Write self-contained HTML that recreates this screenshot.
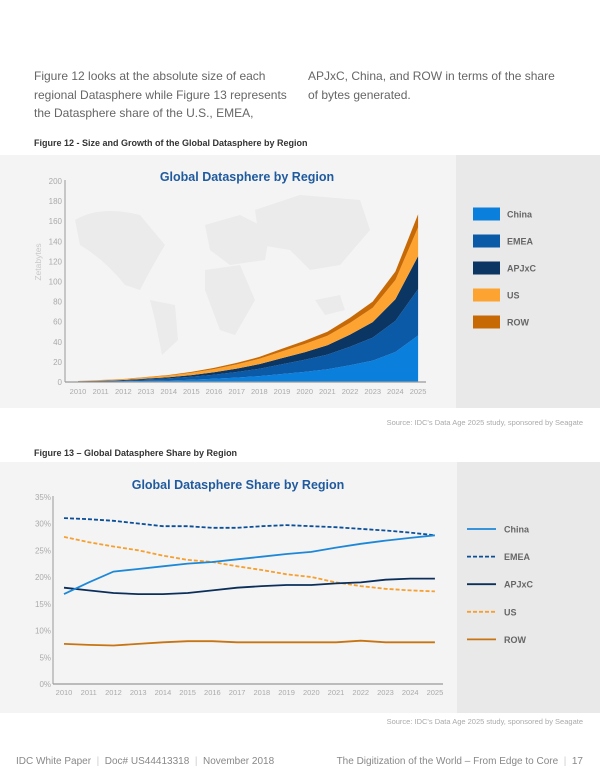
<!DOCTYPE html>
<html><head><meta charset="utf-8"><style>
body{margin:0;width:600px;height:776px;background:#fff;font-family:"Liberation Sans",sans-serif;position:relative;overflow:hidden}
.t{position:absolute;white-space:nowrap}
</style></head><body>
<div class="t" style="left:34px;top:67px;font-size:12px;color:#666;line-height:18.5px">Figure 12 looks at the absolute size of each<br>regional Datasphere while Figure 13 represents<br>the Datasphere share of the U.S., EMEA,</div>
<div class="t" style="left:308px;top:67px;font-size:12px;color:#666;line-height:18.5px">APJxC, China, and ROW in terms of the share<br>of bytes generated.</div>
<div class="t" style="left:34px;top:138px;font-size:9px;font-weight:bold;color:#333">Figure 12 - Size and Growth of the Global Datasphere by Region</div>
<div class="t" style="left:34px;top:448px;font-size:9px;font-weight:bold;color:#333">Figure 13 – Global Datasphere Share by Region</div>
<div class="t" style="right:17px;top:418px;font-size:7.5px;color:#aaa">Source: IDC's Data Age 2025 study, sponsored by Seagate</div>
<div class="t" style="right:17px;top:717px;font-size:7.5px;color:#aaa">Source: IDC's Data Age 2025 study, sponsored by Seagate</div>
<div class="t" style="left:16px;top:756px;font-size:10px;color:#888">IDC White Paper <span style="color:#ccc">&nbsp;|&nbsp;</span> Doc# US44413318 <span style="color:#ccc">&nbsp;|&nbsp;</span> November 2018</div>
<div class="t" style="right:17px;top:756px;font-size:10px;color:#888">The Digitization of the World – From Edge to Core <span style="color:#ccc">&nbsp;|&nbsp;</span> 17</div>
<svg id="s" width="600" height="776" style="position:absolute;left:0;top:0" font-family="Liberation Sans, sans-serif">
<rect x="0" y="155" width="600" height="253" fill="#f4f4f4"/>
<rect x="456" y="155" width="144" height="253" fill="#e9e9e9"/>
<rect x="0" y="462" width="600" height="251" fill="#f4f4f4"/>
<rect x="457" y="462" width="143" height="251" fill="#e9e9e9"/>
<g fill="#ebebeb">
<path d="M75,220 Q100,205 140,215 L165,245 Q150,270 140,290 L125,285 Q105,260 80,245Z"/>
<path d="M150,300 L175,305 L178,340 L162,355 L155,320Z"/>
<path d="M205,225 L240,215 L270,230 L265,260 L230,265 L210,250Z"/>
<path d="M205,270 L240,265 L255,300 L235,335 L220,330 L205,290Z"/>
<path d="M255,210 L300,195 L360,200 L370,230 L340,265 L310,270 L290,250 L260,245Z"/>
<path d="M315,300 L340,295 L345,310 L325,315Z"/>
</g>
<g id="c1"></g><g id="c2"></g>
<text x="247" y="181" text-anchor="middle" font-size="12.5" font-weight="bold" fill="#1f5a9e">Global Datasphere by Region</text>
<text x="238" y="489" text-anchor="middle" font-size="12.5" font-weight="bold" fill="#1f5a9e">Global Datasphere Share by Region</text>
<text transform="translate(41,262) rotate(-90)" text-anchor="middle" font-size="8.5" fill="#c8c8c8">Zetabytes</text>
</svg>
<script>
var sh={China:[16.8,19,21,21.5,22,22.5,22.8,23.3,23.8,24.3,24.7,25.5,26.2,26.8,27.3,27.8],
EMEA:[31,30.8,30.5,30,29.5,29.5,29.2,29.2,29.5,29.7,29.5,29.3,29,28.7,28.3,27.8],
APJxC:[18,17.5,17,16.8,16.8,17,17.5,18,18.3,18.5,18.5,18.8,19,19.5,19.7,19.7],
US:[27.5,26.5,25.7,25,24,23.2,22.8,22,21.3,20.5,20,19,18.3,17.8,17.5,17.3],
ROW:[7.5,7.3,7.2,7.5,7.8,8,8,7.8,7.8,7.8,7.8,7.8,8.1,7.8,7.8,7.8]};
var tot=[1,2,3,5,7,10,14,19,25,33,41,50,64,80,110,167];
var names=["China","EMEA","APJxC","US","ROW"];
var col={China:"#0a7fdc",EMEA:"#0b5aa8",APJxC:"#0b3563",US:"#fda331",ROW:"#c76a06"};
var h='';
function X1(i){return 78+i*22.67} function Y1(v){return 382-v*1.005}
var cum=tot.map(function(){return 0});var layers=[];
names.forEach(function(n){var lo=cum.slice();for(var i=0;i<16;i++){var s=0;names.forEach(function(m){s+=sh[m][i]});cum[i]+=tot[i]*sh[n][i]/s}layers.push([n,lo,cum.slice()])});
function smooth(pts){var d='';for(var i=0;i<pts.length;i++){d+=(i?'L':'M')+pts[i][0].toFixed(1)+','+pts[i][1].toFixed(1)}return d}
layers.forEach(function(L){var p=[];for(var i=0;i<16;i++)p.push([X1(i),Y1(L[2][i])]);for(var i=15;i>=0;i--)p.push([X1(i),Y1(L[1][i])]);h+='<path d="'+smooth(p)+'Z" fill="'+col[L[0]]+'"/>'});
h+='<line x1="65" y1="180" x2="65" y2="382" stroke="#999" stroke-width="1"/><line x1="65" y1="382" x2="426" y2="382" stroke="#999" stroke-width="1.2"/>';
for(var v=0;v<=200;v+=20)h+='<text x="62" y="'+(Y1(v)+3)+'" text-anchor="end" font-size="8" fill="#aaa">'+v+'</text>';
for(var i=0;i<16;i++)h+='<text x="'+X1(i)+'" y="394" text-anchor="middle" font-size="7.5" fill="#aaa">'+(2010+i)+'</text>';
names.forEach(function(n,k){var y=214+k*27;h+='<rect x="473" y="'+(y-6.5)+'" width="27" height="13" fill="'+col[n]+'"/><text x="507" y="'+(y+3.5)+'" font-size="9" font-weight="bold" fill="#666">'+n+'</text>'});
document.getElementById('c1').innerHTML=h;
h='';function X2(i){return 64+i*24.73} function Y2(v){return 684-v*5.35}
var col2={China:"#1e88d8",EMEA:"#0b4f98",APJxC:"#0b2f5a",US:"#f5a031",ROW:"#c77412"};
var dash={EMEA:1,US:1};
h+='<line x1="53" y1="496" x2="53" y2="684" stroke="#999"/><line x1="53" y1="684" x2="443" y2="684" stroke="#999" stroke-width="1.2"/>';
for(var v=0;v<=35;v+=5)h+='<text x="51" y="'+(Y2(v)+3)+'" text-anchor="end" font-size="8" fill="#aaa">'+v+'%</text>';
for(var i=0;i<16;i++)h+='<text x="'+X2(i)+'" y="695" text-anchor="middle" font-size="7.5" fill="#aaa">'+(2010+i)+'</text>';
["ROW","US","APJxC","EMEA","China"].forEach(function(n){var p=[];for(var i=0;i<16;i++)p.push([X2(i),Y2(sh[n][i])]);h+='<path d="'+smooth(p)+'" fill="none" stroke="'+col2[n]+'" stroke-width="1.8"'+(dash[n]?' stroke-dasharray="4,2"':'')+'/>'});
names.forEach(function(n,k){var y=529+k*27.6;h+='<line x1="467" y1="'+y+'" x2="496" y2="'+y+'" stroke="'+col2[n]+'" stroke-width="1.8"'+(dash[n]?' stroke-dasharray="4,2"':'')+'/><text x="504" y="'+(y+3.5)+'" font-size="9" font-weight="bold" fill="#666">'+n+'</text>'});
document.getElementById('c2').innerHTML=h;
</script>
</body></html>
